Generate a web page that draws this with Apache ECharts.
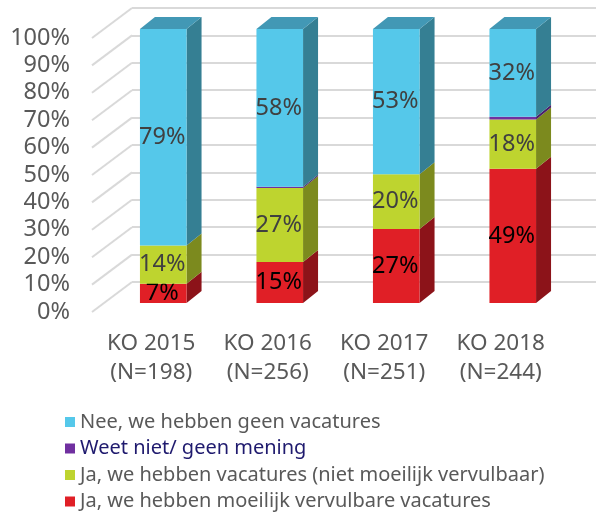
<!DOCTYPE html>
<html>
<head>
<meta charset="utf-8">
<script src="https://cdn.jsdelivr.net/npm/echarts@6/dist/echarts.min.js"></script>
<style>
  html, body { margin: 0; padding: 0; background: #fff; }
  #chart { width: 596px; height: 512px; }
</style>
</head>
<body>
<div id="chart"></div>
<script>
// categories + values (percent), bottom to top of each stack
const categories = ['KO 2015\n(N=198)', 'KO 2016\n(N=256)', 'KO 2017\n(N=251)', 'KO 2018\n(N=244)']
const jaMoeilijk = [7, 15, 27, 49]
const jaNiet = [14, 27, 20, 18]
const weetNiet = [0, 0.4, 0, 1]
const nee = [79, 57.6, 53, 32]
const yTicks = [0, 10, 20, 30, 40, 50, 60, 70, 80, 90, 100]

const names = {
  nee: 'Nee, we hebben geen vacatures',
  weet: 'Weet niet/ geen mening',
  jaNiet: 'Ja, we hebben vacatures (niet moeilijk vervulbaar)',
  jaMoeilijk: 'Ja, we hebben moeilijk vervulbare vacatures'
}

const FONT = 'Noto Sans'
const DEPTH = [15, 12]      // bar depth offset (px)
const WALL = [40, 30]       // side wall diagonal offset (px)

const stackOrder = [
  { key: 'jaMoeilijk', data: jaMoeilijk, front: '#E01F26', side: '#8C1319', label: '#000000' },
  { key: 'jaNiet', data: jaNiet, front: '#BED42F', side: '#7C8A1E', label: '#404040' },
  { key: 'weet', data: weetNiet, front: '#7030A0', side: '#4A1F6A', label: null },
  { key: 'nee', data: nee, front: '#55C8EA', side: '#357F93', top: '#4298B5', label: '#404040' }
]

// cumulative bases
const bases = categories.map(() => 0)
const barSeries = stackOrder.map((s, si) => {
  const rows = s.data.map((v, i) => {
    const row = [i, bases[i], v]
    bases[i] += v
    return row
  })
  return {
    name: names[s.key],
    type: 'custom',
    xAxisIndex: 0,
    yAxisIndex: 0,
    z: 10 + si,
    itemStyle: { color: s.front },
    data: rows,
    renderItem(params, api) {
      const i = api.value(0), base = api.value(1), val = api.value(2)
      if (!val) return null
      const bw = api.size([1, 0])[0] * 0.4
      const pb = api.coord([i, base])
      const pt = api.coord([i, base + val])
      const x0 = pb[0] - bw / 2, x1 = pb[0] + bw / 2
      const yb = pb[1], yt = pt[1]
      const children = [
        {
          type: 'polygon',
          shape: { points: [[x1, yb], [x1 + DEPTH[0], yb - DEPTH[1]], [x1 + DEPTH[0], yt - DEPTH[1]], [x1, yt]] },
          style: { fill: s.side }
        },
        {
          type: 'rect',
          shape: { x: x0, y: yt, width: bw, height: yb - yt },
          style: { fill: s.front }
        }
      ]
      if (s.top) {
        children.push({
          type: 'polygon',
          shape: { points: [[x0, yt], [x0 + DEPTH[0], yt - DEPTH[1]], [x1 + DEPTH[0], yt - DEPTH[1]], [x1, yt]] },
          style: { fill: s.top }
        })
      }
      if (s.label) {
        children.push({
          type: 'text',
          style: {
            text: Math.round(val) + '%',
            x: pb[0] - 1,
            y: (yb + yt) / 2,
            align: 'center',
            verticalAlign: 'middle',
            fontSize: 23.5,
            fontFamily: FONT,
            fill: s.label
          }
        })
      }
      return { type: 'group', children }
    }
  }
})

const chart = echarts.init(document.getElementById('chart'), null, { renderer: 'canvas' })

chart.setOption({
  animation: false,
  backgroundColor: '#fff',
  grid: [
    // bar front plane
    { left: 105, right: 25, top: 29, bottom: 209 },
    // back wall
    { left: 132, right: 0, top: 8, bottom: 230 },
    // left labels / side wall front edge
    { left: 92, width: 40, top: 38, bottom: 200 }
  ],
  xAxis: [
    {
      gridIndex: 0,
      type: 'category',
      data: categories,
      axisLine: { show: false },
      axisTick: { show: false },
      axisLabel: {
        interval: 0,
        margin: 26,
        fontSize: 22.5,
        lineHeight: 29,
        fontFamily: FONT,
        color: '#595959',
        padding: [0, 24, 0, 0]
      }
    },
    { gridIndex: 1, type: 'value', show: false, min: 0, max: 1 },
    { gridIndex: 2, type: 'value', show: false, min: 0, max: 1 }
  ],
  yAxis: [
    { gridIndex: 0, type: 'value', min: 0, max: 100, show: false },
    {
      gridIndex: 1,
      type: 'value',
      min: 0,
      max: 100,
      interval: 10,
      axisLine: { show: false },
      axisTick: { show: false },
      axisLabel: { show: false },
      splitLine: { lineStyle: { color: '#D9D9D9', width: 2 } }
    },
    {
      gridIndex: 2,
      type: 'value',
      min: 0,
      max: 100,
      interval: 10,
      axisLine: { show: false },
      axisTick: { show: false },
      splitLine: { show: false },
      axisLabel: {
        margin: 22,
        fontSize: 23.5,
        fontFamily: FONT,
        color: '#595959',
        padding: [7, 0, 0, 0],
        formatter: '{value}%'
      }
    }
  ],
  legend: {
    orient: 'vertical',
    left: 65,
    top: 412,
    padding: 0,
    icon: 'rect',
    itemWidth: 10,
    itemHeight: 10,
    itemGap: 6.5,
    textStyle: { fontSize: 20, lineHeight: 20, fontFamily: FONT, color: '#595959' },
    data: [
      { name: names.nee },
      { name: names.weet, textStyle: { color: '#1F1A6E' } },
      { name: names.jaNiet },
      { name: names.jaMoeilijk }
    ]
  },
  series: [
    {
      type: 'custom',
      name: 'wall',
      xAxisIndex: 2,
      yAxisIndex: 2,
      silent: true,
      z: 1,
      data: yTicks.map(v => [0, v]),
      renderItem(params, api) {
        const p = api.coord([0, api.value(1)])
        return {
          type: 'line',
          shape: { x1: p[0], y1: p[1], x2: p[0] + WALL[0], y2: p[1] - WALL[1] },
          style: { stroke: '#D9D9D9', lineWidth: 2 }
        }
      }
    },
    ...barSeries
  ]
})
</script>
</body>
</html>
